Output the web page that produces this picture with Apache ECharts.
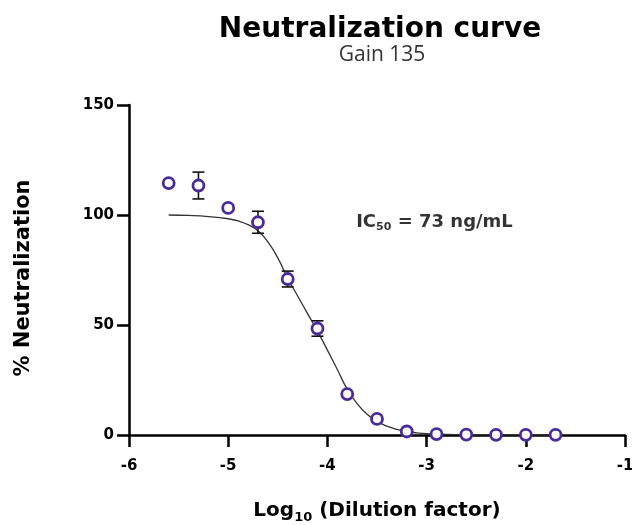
<!DOCTYPE html>
<html>
<head>
<meta charset="utf-8">
<script src="https://cdn.jsdelivr.net/npm/echarts@6/dist/echarts.min.js"></script>
<style>html,body{margin:0;padding:0;background:#fff}#c{width:632px;height:525px}</style>
</head>
<body>
<div id="c"></div>
<script>
// Measured points: log10 dilution factor, % neutralization, error (SD)
var logDilution = [-5.6, -5.3, -5.0, -4.7, -4.4, -4.1, -3.8, -3.5, -3.2, -2.9, -2.6, -2.3, -2.0, -1.7];
var neutralization = [114.5, 113.4, 103.2, 96.7, 70.9, 48.4, 18.6, 7.3, 1.6, 0.4, 0.2, 0.1, 0.1, 0.1];
var errors = [0, 6.1, 0, 5.0, 3.6, 3.5, 0, 0, 0, 0, 0, 0, 0, 0];

// Fitted curve
var curveX = [-5.6, -5.4, -5.2, -5.0, -4.9, -4.8, -4.7, -4.6, -4.5, -4.4, -4.3, -4.2, -4.1, -4.0, -3.9, -3.8, -3.7, -3.6, -3.5, -3.4, -3.3, -3.2, -3.1, -3.0, -2.8, -2.5, -2.2, -2.0, -1.7];
var curveY = [100, 99.8, 99.3, 98.3, 97.3, 95.6, 92.8, 87.8, 80.5, 71.2, 63.2, 55.2, 47.2, 38.6, 29.8, 20.8, 14.2, 9.4, 6.2, 4.0, 2.6, 1.6, 1.0, 0.6, 0.25, 0.08, 0.03, 0.01, 0.0];

// Tick labels / axis settings
var xTicks = [-6, -5, -4, -3, -2, -1];
var yTicks = [0, 50, 100, 150];

// Annotation
var ic50Pos = [[-3.71, 96.8]];

var purple = '#4B2A9C';
var fontFam = 'DejaVu Sans';

var pts = logDilution.map(function (x, i) { return [x, neutralization[i]]; });
var errData = logDilution.map(function (x, i) { return [x, neutralization[i], errors[i]]; });
var curve = curveX.map(function (x, i) { return [x, curveY[i]]; });

var chart = echarts.init(document.getElementById('c'), null, {renderer: 'canvas'});
chart.setOption({
  animation: false,
  backgroundColor: '#fff',
  title: [{
    text: 'Neutralization curve',
    left: 375, textAlign: 'center', top: 11,
    textStyle: {fontFamily: fontFam, fontWeight: 'bold', fontSize: 28, color: '#000'}
  }, {
    text: 'Gain 135',
    left: 377, textAlign: 'center', top: 40,
    textStyle: {fontFamily: 'Open Sans', fontWeight: 'normal', fontSize: 21, color: '#333'}
  }],
  grid: {left: 129, right: 7, top: 105, bottom: 90, containLabel: false, outerBoundsMode: 'none'},
  xAxis: {
    type: 'value', min: xTicks[0], max: xTicks[xTicks.length - 1], interval: 1,
    name: '{b|Log}{s|10}{b| (Dilution factor)}',
    nameLocation: 'middle', nameGap: 63,
    nameTextStyle: {
      rich: {
        b: {fontFamily: fontFam, fontWeight: 'bold', fontSize: 20, color: '#000', lineHeight: 26, verticalAlign: 'middle'},
        s: {fontFamily: fontFam, fontWeight: 'bold', fontSize: 13, color: '#000', lineHeight: 18, verticalAlign: 'bottom', padding: [8, 0, 0, 0]}
      }
    },
    axisLine: {onZero: false, lineStyle: {color: '#000', width: 2.5}},
    axisTick: {show: true, length: 12, lineStyle: {color: '#000', width: 2.5}},
    axisLabel: {margin: 24, fontFamily: fontFam, fontWeight: 'bold', fontSize: 15, color: '#000'},
    splitLine: {show: false}
  },
  yAxis: {
    type: 'value', min: yTicks[0], max: yTicks[yTicks.length - 1], interval: 50,
    name: '% Neutralization',
    nameLocation: 'middle', nameGap: 95, nameRotate: 90,
    nameTextStyle: {fontFamily: fontFam, fontWeight: 'bold', fontSize: 21, color: '#000', padding: [0, 16, 0, 0]},
    axisLine: {show: true, onZero: false, lineStyle: {color: '#000', width: 2.5}},
    axisTick: {show: true, length: 12, lineStyle: {color: '#000', width: 2.5}},
    axisLabel: {margin: 15, fontFamily: fontFam, fontWeight: 'bold', fontSize: 15, color: '#000'},
    splitLine: {show: false}
  },
  series: [
    {
      type: 'line', data: curve, smooth: true, showSymbol: false, z: 1,
      lineStyle: {color: '#333', width: 1.3}, silent: true
    },
    {
      type: 'custom', z: 2, silent: true,
      data: errData,
      renderItem: function (params, api) {
        var x = api.value(0), y = api.value(1), e = api.value(2);
        if (!e) return null;
        var top = api.coord([x, y + e]);
        var bot = api.coord([x, y - e]);
        var hw = 6;
        return {
          type: 'group',
          children: [
            {type: 'line', shape: {x1: top[0], y1: top[1], x2: bot[0], y2: bot[1]}, style: {stroke: '#111', lineWidth: 1.6}},
            {type: 'line', shape: {x1: top[0] - hw, y1: top[1], x2: top[0] + hw, y2: top[1]}, style: {stroke: '#111', lineWidth: 1.6}},
            {type: 'line', shape: {x1: bot[0] - hw, y1: bot[1], x2: bot[0] + hw, y2: bot[1]}, style: {stroke: '#111', lineWidth: 1.6}}
          ]
        };
      }
    },
    {
      type: 'scatter', data: pts, z: 3, symbol: 'circle', symbolSize: 11,
      itemStyle: {color: '#fff', borderColor: purple, borderWidth: 2.8, opacity: 1}
    },
    {
      type: 'scatter', data: ic50Pos, symbolSize: 0, z: 4, silent: true,
      label: {
        show: true, position: 'right', distance: 0,
        formatter: '{b|IC}{s|50}{b| = 73 ng/mL}',
        rich: {
          b: {fontFamily: fontFam, fontWeight: 'bold', fontSize: 18, color: '#000', lineHeight: 22, verticalAlign: 'middle'},
          s: {fontFamily: fontFam, fontWeight: 'bold', fontSize: 11, color: '#000', lineHeight: 22, verticalAlign: 'bottom', padding: [9, 0, 0, 0]}
        }
      }
    }
  ]
});
</script>
</body>
</html>
